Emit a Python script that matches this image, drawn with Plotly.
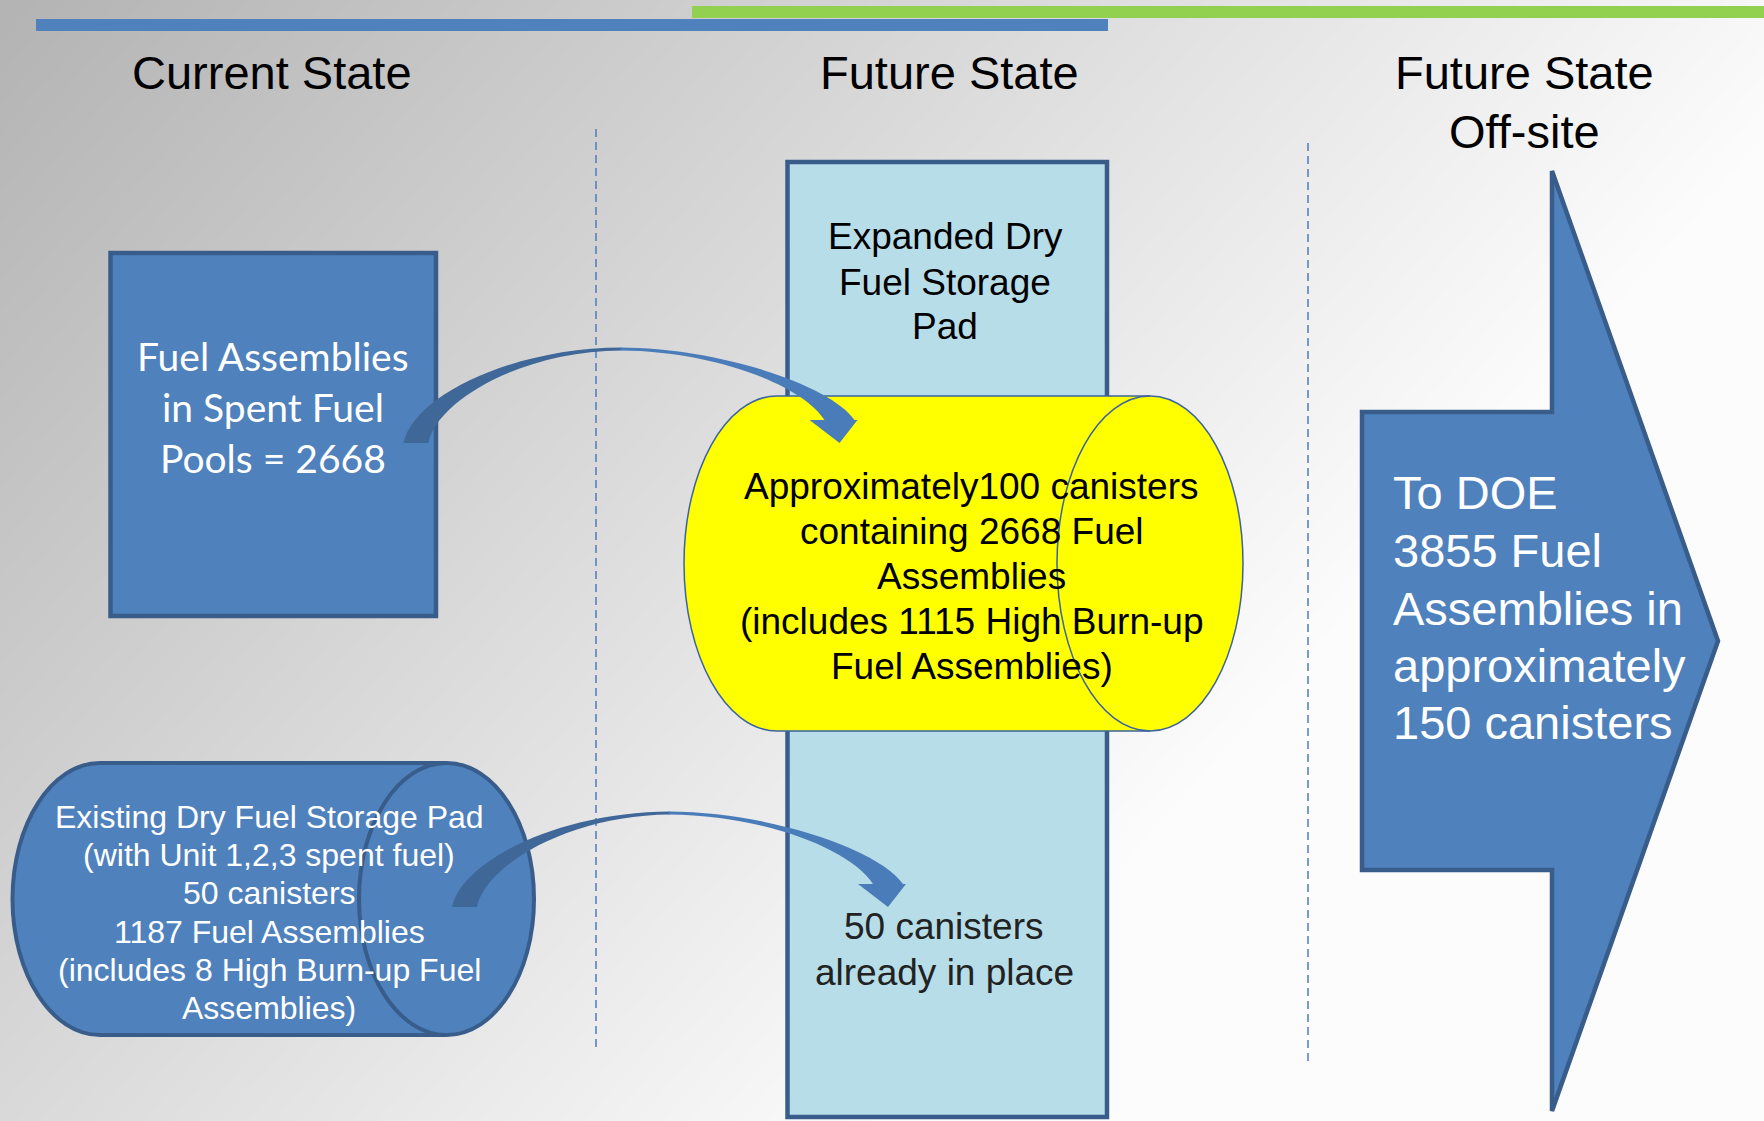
import numpy as np
import plotly.graph_objects as go

W, H = 1764, 1121

# ---- diagram text content ----
column_titles = ["Current State", "Future State", "Future State", "Off-site"]
pool_lines = ["Fuel Assemblies", "in Spent Fuel", "Pools = 2668"]
expanded_pad_lines = ["Expanded Dry", "Fuel Storage", "Pad"]
new_canister_lines = ["Approximately100 canisters", "containing 2668 Fuel", "Assemblies",
                      "(includes 1115 High Burn-up", "Fuel Assemblies)"]
existing_pad_lines = ["Existing Dry Fuel Storage Pad", "(with Unit 1,2,3 spent fuel)", "50 canisters",
                      "1187 Fuel Assemblies", "(includes 8 High Burn-up Fuel", "Assemblies)"]
in_place_lines = ["50 canisters", "already in place"]
doe_lines = ["To DOE", "3855 Fuel", "Assemblies in", "approximately", "150 canisters"]

# ---- colours ----
BLUE = "#4f81bd"
EDGE = "#385d8a"
LIGHT = "#b7dde8"
YELLOW = "#ffff00"
GREEN = "#92d050"
DASH = "#4a7ebb"
ARIAL = "Liberation Sans, Arial, sans-serif"
CALIBRI = "Lato, Carlito, Calibri, sans-serif"

fig = go.Figure()

# background gradient (style only)
gx = np.linspace(-10, W + 10, 80)
gy = np.linspace(-10, H + 10, 50)
gz = np.minimum(252, 179 + 68 * gx[None, :] / W + 38 * gy[:, None] / H)
fig.add_trace(go.Heatmap(x=gx, y=gy, z=gz, zmin=180, zmax=255, zsmooth="best",
                         colorscale=[[0, "rgb(180,180,180)"], [1, "rgb(255,255,255)"]],
                         showscale=False, hoverinfo="skip"))

shapes = []


def rect(x0, y0, x1, y1, fill, line=None, lw=0):
    shapes.append(dict(type="rect", x0=x0, y0=y0, x1=x1, y1=y1, fillcolor=fill,
                       line=dict(color=line or fill, width=lw), layer="above"))


def path(d, fill=None, line=None, lw=0):
    s = dict(type="path", path=d, line=dict(color=line or "rgba(0,0,0,0)", width=lw), layer="above")
    if fill:
        s["fillcolor"] = fill
    shapes.append(s)


def cylinder(cxl, cxr, cy, a, b, fill, line, lw):
    k = 0.5523
    top, bot = cy - b, cy + b
    d = (f"M {cxl},{top} L {cxr},{top} "
         f"C {cxr + k * a},{top} {cxr + a},{cy - k * b} {cxr + a},{cy} "
         f"C {cxr + a},{cy + k * b} {cxr + k * a},{bot} {cxr},{bot} "
         f"L {cxl},{bot} "
         f"C {cxl - k * a},{bot} {cxl - a},{cy + k * b} {cxl - a},{cy} "
         f"C {cxl - a},{cy - k * b} {cxl - k * a},{top} {cxl},{top} Z")
    path(d, fill=fill, line=line, lw=lw)
    d2 = (f"M {cxr},{top} C {cxr - k * a},{top} {cxr - a},{cy - k * b} {cxr - a},{cy} "
          f"C {cxr - a},{cy + k * b} {cxr - k * a},{bot} {cxr},{bot}")
    path(d2, line=line, lw=lw)


def curved_arrow(dx, dy):
    def p(x, y):
        return f"{x + dx},{y + dy}"
    left = (f"M {p(452, 907)} C {p(462, 860)} {p(560, 812)} {p(670, 811.5)} "
            f"L {p(670, 814.5)} C {p(570, 815)} {p(485, 865)} {p(477, 907)} Z")
    right = (f"M {p(669, 811.5)} C {p(770, 812)} {p(880, 850)} {p(903, 884)} "
             f"L {p(906, 884)} L {p(888, 907)} L {p(858, 884)} L {p(873, 884)} "
             f"C {p(850, 848)} {p(760, 815)} {p(669, 814.5)} Z")
    path(left, fill="#3f6899")
    path(right, fill="#4a7cba")


# top bars
rect(692, 6, W + 5, 18, GREEN)
rect(36, 19, 1108, 31, BLUE)

# dashed separators
shapes.append(dict(type="line", x0=596, x1=596, y0=129, y1=1048,
                   line=dict(color=DASH, width=1.5, dash="8px,5px"), layer="above"))
shapes.append(dict(type="line", x0=1308, x1=1308, y0=143, y1=1061,
                   line=dict(color=DASH, width=1.5, dash="8px,5px"), layer="above"))

# spent fuel pool box
rect(110.5, 253, 436, 616, BLUE, EDGE, 4.5)
# expanded pad column
rect(787.5, 162, 1107, 1117, LIGHT, EDGE, 4.5)
# yellow canister cylinder
cylinder(777, 1150, 563.5, 93, 167.5, YELLOW, "#3b63a0", 1.5)
# existing pad cylinder
cylinder(100, 446.5, 899, 87.5, 136, BLUE, EDGE, 4)
# big DOE arrow
path("M 1362,412 L 1552,412 L 1552,171 L 1718,641 L 1552,1111 L 1552,870 L 1362,870 Z",
     fill=BLUE, line=EDGE, lw=4.5)
# curved arrows
curved_arrow(-48.5, -464)
curved_arrow(0, 0)

annotations = []


def lines(texts, x, ys, size, color, family, anchor="center"):
    for t, y in zip(texts, ys):
        annotations.append(dict(x=x, y=y, xref="x", yref="y", text=t, showarrow=False,
                                xanchor=anchor, yanchor="middle", align=anchor,
                                font=dict(size=size, color=color, family=family)))


lines(column_titles[:1], 272, [72], 47, "#000000", ARIAL)
lines(column_titles[1:2], 949, [72], 47, "#000000", ARIAL)
lines(column_titles[2:], 1524, [72, 131], 47, "#000000", ARIAL)
lines(pool_lines, 273, [356, 407, 457.5], 39, "#ffffff", CALIBRI)
lines(expanded_pad_lines, 945, [236.5, 282, 326.5], 37, "#000000", ARIAL)
lines(new_canister_lines, 971.5, [486, 531, 576, 621, 666], 37, "#000000", ARIAL)
lines(existing_pad_lines, 269, [816.7, 855, 893.3, 931.6, 970, 1008.3], 32, "#ffffff", ARIAL)
lines(in_place_lines, 944, [926, 972.5], 37, "#222222", ARIAL)
lines(doe_lines, 1391, [492, 550, 608, 665.5, 722.5], 47, "#ffffff", ARIAL, anchor="left")

fig.update_layout(
    width=W, height=H, margin=dict(l=0, r=0, t=0, b=0),
    paper_bgcolor="#ffffff", plot_bgcolor="#ffffff",
    xaxis=dict(range=[0, W], visible=False, fixedrange=True, domain=[0, 1]),
    yaxis=dict(range=[H, 0], visible=False, fixedrange=True, domain=[0, 1]),
    shapes=shapes, annotations=annotations, showlegend=False,
)

fig.write_html("out.html", config={"displayModeBar": False},
               post_script="document.body.style.margin='0px';document.body.style.overflow='hidden';")
